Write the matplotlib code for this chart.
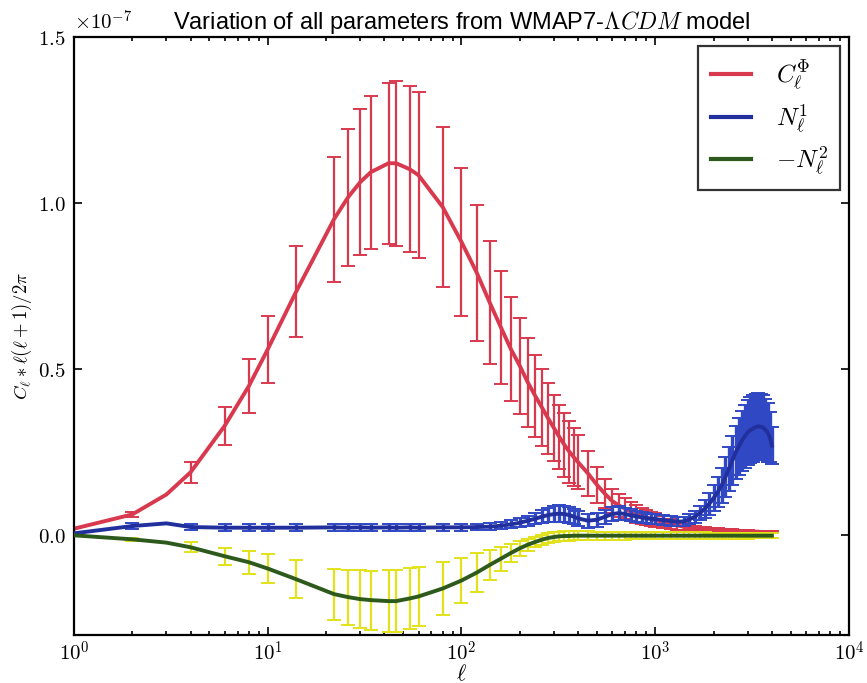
import numpy as np
import matplotlib
matplotlib.use('Agg')
import matplotlib.pyplot as plt
from matplotlib.ticker import FixedLocator, FuncFormatter, LogLocator, NullFormatter

plt.rcParams['mathtext.fontset'] = 'cm'

# multipoles (bins), values in units of 1e-7
ell = [1, 2, 3, 4, 6, 8, 10, 14, 22, 26, 30, 34, 42, 46, 54, 60,
       80, 100, 120, 140, 160, 180, 200, 220, 240, 260, 280, 300, 320, 340, 360, 380,
       400, 450, 500, 550, 600, 650, 700, 750, 800, 850, 900, 950, 1000,
       1100, 1200, 1300, 1400, 1500, 1600, 1700, 1800, 1900, 2000,
       2100, 2200, 2300, 2400, 2500, 2600, 2700, 2800, 2900, 3000,
       3100, 3200, 3300, 3400, 3500, 3600, 3700, 3800, 3900, 4000]

# C_ell^Phi
c_phi = [0.020, 0.063, 0.123, 0.19, 0.33, 0.45, 0.56, 0.733, 0.952, 1.018, 1.063, 1.093, 1.12, 1.12, 1.102, 1.084,
         0.988, 0.883, 0.79, 0.70, 0.625, 0.56, 0.51, 0.46, 0.42, 0.385, 0.352, 0.323, 0.296, 0.272, 0.252, 0.235,
         0.22, 0.186, 0.152, 0.125, 0.103, 0.09, 0.08, 0.071, 0.064, 0.058, 0.053, 0.049, 0.046,
         0.040, 0.034, 0.030, 0.026, 0.023, 0.021, 0.019, 0.018, 0.017, 0.016,
         0.016, 0.015, 0.015, 0.014, 0.014, 0.013, 0.013, 0.012, 0.012, 0.012,
         0.011, 0.011, 0.011, 0.011, 0.010, 0.010, 0.010, 0.010, 0.010, 0.010]
c_phi_err = [0, 0.008, 0, 0.032, 0.057, 0.081, 0.10, 0.137, 0.188, 0.206, 0.219, 0.23, 0.242, 0.248, 0.25, 0.25,
             0.24, 0.222, 0.205, 0.185, 0.17, 0.156, 0.144, 0.134, 0.123, 0.115, 0.107, 0.10, 0.097, 0.096, 0.093, 0.088,
             0.082, 0.067, 0.054, 0.044, 0.037, 0.034, 0.031, 0.029, 0.027, 0.025, 0.023, 0.022, 0.021,
             0.018, 0.015, 0.013, 0.011, 0.009, 0.008, 0.007, 0.006, 0.006, 0.005,
             0.005, 0.005, 0.004, 0.004, 0.004, 0.004, 0.004, 0.004, 0.003, 0.003,
             0.003, 0.003, 0.003, 0.003, 0.003, 0.003, 0.003, 0.003, 0.003, 0.003]

# N_ell^1
n1 = [0.006, 0.028, 0.036, 0.025, 0.023, 0.023, 0.023, 0.023, 0.024, 0.023, 0.024, 0.023, 0.024, 0.023, 0.024, 0.023,
      0.024, 0.024, 0.025, 0.026, 0.029, 0.033, 0.038, 0.044, 0.05, 0.056, 0.061, 0.064, 0.065, 0.064, 0.061, 0.056,
      0.051, 0.044, 0.047, 0.056, 0.064, 0.067, 0.064, 0.06, 0.057, 0.054, 0.052, 0.05, 0.049,
      0.046, 0.043, 0.041, 0.042, 0.048, 0.056, 0.067, 0.08, 0.095, 0.112,
      0.13, 0.15, 0.175, 0.20, 0.225, 0.25, 0.268, 0.285, 0.298, 0.31,
      0.317, 0.322, 0.326, 0.328, 0.327, 0.325, 0.318, 0.31, 0.295, 0.27]
n1_err = [0, 0.01, 0, 0.01, 0.01, 0.01, 0.01, 0.01, 0.01, 0.01, 0.01, 0.01, 0.01, 0.01, 0.01, 0.01,
          0.01, 0.01, 0.01, 0.01, 0.011, 0.012, 0.013, 0.015, 0.017, 0.02, 0.022, 0.024, 0.025, 0.025, 0.024, 0.023,
          0.022, 0.021, 0.021, 0.021, 0.021, 0.02, 0.019, 0.018, 0.017, 0.016, 0.016, 0.015, 0.015,
          0.015, 0.014, 0.014, 0.014, 0.015, 0.018, 0.022, 0.027, 0.033, 0.039,
          0.045, 0.052, 0.06, 0.067, 0.074, 0.08, 0.085, 0.09, 0.094, 0.097,
          0.099, 0.10, 0.10, 0.10, 0.098, 0.096, 0.092, 0.088, 0.075, 0.055]

# -N_ell^2
n2 = [0.0, -0.012, -0.022, -0.036, -0.063, -0.081, -0.10, -0.132, -0.177, -0.186, -0.192, -0.195, -0.198, -0.198, -0.19, -0.184,
      -0.16, -0.136, -0.112, -0.089, -0.07, -0.053, -0.039, -0.028, -0.02, -0.013, -0.008, -0.005, -0.003, -0.002, -0.002, -0.001,
      -0.001, -0.001, -0.001, -0.001, -0.001, -0.001, -0.001, -0.001, -0.001, -0.001, -0.001, -0.001, -0.001,
      -0.001, -0.001, -0.001, -0.001, -0.001, -0.001, -0.001, -0.001, -0.001, -0.001,
      -0.001, -0.001, -0.001, -0.001, -0.001, -0.001, -0.001, -0.001, -0.001, -0.001,
      -0.001, -0.001, -0.001, -0.001, -0.001, -0.001, -0.001, -0.001, -0.001, -0.001]
n2_err = [0, 0.004, 0, 0.015, 0.025, 0.034, 0.044, 0.058, 0.077, 0.083, 0.087, 0.089, 0.093, 0.094, 0.092, 0.09,
          0.081, 0.069, 0.058, 0.046, 0.036, 0.028, 0.022, 0.018, 0.016, 0.015, 0.015, 0.015, 0.014, 0.014, 0.014, 0.013,
          0.013, 0.013, 0.012, 0.012, 0.012, 0.012, 0.012, 0.011, 0.011, 0.011, 0.011, 0.011, 0.011,
          0.011, 0.010, 0.010, 0.010, 0.010, 0.010, 0.010, 0.010, 0.009, 0.009,
          0.009, 0.009, 0.009, 0.009, 0.009, 0.009, 0.009, 0.009, 0.009, 0.009,
          0.008, 0.008, 0.008, 0.008, 0.008, 0.008, 0.008, 0.008, 0.008, 0.008]

ell = np.array(ell)
bars = ~np.isin(ell, [1, 3])  # no error bar on these multipoles

fig = plt.figure(figsize=(8.67, 6.83), dpi=100)
ax = fig.add_axes([74 / 867, 1 - 635 / 683, 775 / 867, 598 / 683])

series = [
    (c_phi, c_phi_err, '#d8394e', '#d8394e', 1.6, r'$C_\ell^\Phi$'),
    (n1, n1_err, '#22309e', '#3048c4', 2.4, r'$N_\ell^1$'),
    (n2, n2_err, '#2d5a1c', '#e2e21a', 1.6, r'$-N_\ell^2$'),
]
for i, (val, err, lc, ec, ew, lab) in enumerate(series):
    val = np.array(val)
    err = np.array(err)
    ax.errorbar(ell[bars], val[bars], yerr=err[bars], fmt='none', ecolor=ec,
                elinewidth=ew, capsize=5, capthick=1.4, zorder=2 + i)
    ax.plot(ell, val, color=lc, lw=2.8, label=lab, zorder=2.5 + i)

ax.set_xscale('log')
ax.set_xlim(1, 1e4)
ax.set_ylim(-0.3, 1.5)

ax.xaxis.set_major_locator(FixedLocator([1, 10, 100, 1000, 10000]))
ax.xaxis.set_major_formatter(FuncFormatter(lambda v, p: r'$10^{%d}$' % round(np.log10(v))))
ax.xaxis.set_minor_locator(LogLocator(base=10, subs=np.arange(2, 10)))
ax.xaxis.set_minor_formatter(NullFormatter())
ax.yaxis.set_major_locator(FixedLocator([0.0, 0.5, 1.0, 1.5]))
ax.yaxis.set_major_formatter(FuncFormatter(lambda v, p: r'$%.1f$' % v))

ax.tick_params(which='both', direction='in', top=True, right=True, labelsize=15, width=1.2)
ax.tick_params(which='major', length=6)
ax.tick_params(axis='y', pad=6)
ax.tick_params(axis='x', pad=4)
ax.tick_params(which='minor', length=3)
for s in ax.spines.values():
    s.set_linewidth(1.6)

ax.text(0.0, 1.005, r'$\times10^{-7}$', transform=ax.transAxes, fontsize=15,
        ha='left', va='bottom')
ax.set_title(r'Variation of all parameters from WMAP7-$\Lambda CDM$ model',
             family='Liberation Sans', fontsize=17, pad=6)
ax.set_xlabel(r'$\ell$', fontsize=16, labelpad=-1)
ax.set_ylabel(r'$C_\ell * \ell(\ell+1)/2\pi$', fontsize=13.5, labelpad=3)

leg = ax.legend(loc='upper right', fontsize=18, fancybox=False, handlelength=1.6,
                handletextpad=1.0, labelspacing=0.38, borderpad=0.5, borderaxespad=0.35)
leg.get_frame().set_edgecolor('black')
leg.get_frame().set_linewidth(1.6)
for line in leg.get_lines():
    line.set_linewidth(3)

fig.savefig('out.png', dpi=100)
